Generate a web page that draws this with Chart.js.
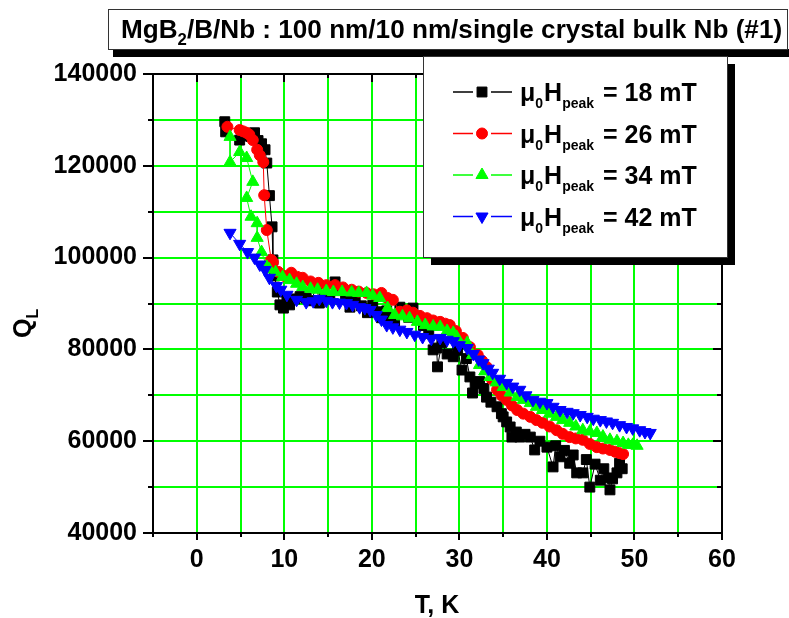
<!DOCTYPE html>
<html>
<head>
<meta charset="utf-8">
<title>MgB2/B/Nb Q vs T</title>
<script src="https://cdn.jsdelivr.net/npm/chart.js@4.4.1/dist/chart.umd.min.js"></script>
<style>
  html, body { margin: 0; padding: 0; background: #fff; }
  #wrap { width: 789px; height: 618px; }
</style>
</head>
<body>
<div id="wrap"><canvas id="qChart" width="789" height="618"></canvas></div>
<script>
// peak field of each series (legend)
const fields = ['18 mT', '26 mT', '34 mT', '42 mT'];

// mu0 Hpeak = 18 mT
const t18 = [3.2, 3.3, 4.9, 5.4, 5.8, 6.2, 6.6, 7.0, 7.4, 7.8, 8.0, 8.3, 8.6, 8.7, 8.9, 9.2, 9.5, 9.9, 10.3, 10.6,
  11.2, 11.8, 12.5, 13.1, 13.7, 14.0, 14.6, 15.2, 15.8, 16.4, 17.0, 17.5, 18.1, 18.8, 19.5, 20.1, 20.6, 21.1, 21.7, 22.1,
  22.6, 23.2, 23.8, 24.2, 24.7, 25.3, 25.9, 26.5, 27.0, 27.4, 27.5, 28.0, 28.6, 29.3, 29.8, 30.3, 30.8, 31.2, 31.5, 31.8,
  32.3, 32.8, 33.1, 33.6, 34.3, 34.8, 35.0, 35.4, 35.8, 36.0, 36.5, 36.9, 37.5, 38.1, 38.6, 39.2, 40.0, 40.7, 41.0, 41.5,
  42.0, 42.6, 43.0, 43.4, 44.1, 44.5, 44.9, 45.5, 46.1, 46.5, 47.0, 47.2, 47.5, 48.0, 48.3, 48.6];
const q18 = [129600, 127400, 125600, 126500, 126800, 126400, 127200, 125500, 124800, 123500, 120600, 113500, 106700, 99500, 96000, 92500, 89700, 89000, 91000, 89700,
  91000, 91500, 91200, 90600, 94000, 90100, 91800, 91500, 94700, 92800, 91000, 89200, 90800, 89500, 88000, 89600, 88200, 86900, 88400, 87000,
  85800, 89200, 88300, 87000, 89000, 86500, 85200, 83500, 79900, 80300, 76200, 81500, 79000, 78400, 79800, 75500, 78000, 74000, 70500, 72500,
  73000, 71500, 69600, 68500, 67500, 66000, 65300, 64200, 63100, 60900, 62000, 60900, 61500, 60900, 58100, 60000, 58700, 54400, 59000, 56600,
  58000, 55200, 57000, 53100, 53100, 56000, 50000, 55000, 51500, 54000, 52000, 49400, 51800, 53100, 55200, 54000];

// mu0 Hpeak = 26 mT
const t26 = [3.5, 4.9, 5.3, 5.7, 6.0, 6.4, 6.9, 7.2, 7.6, 7.7, 8.0, 8.5, 8.7, 9.3, 10.0, 10.8, 11.5, 12.1, 13.0, 13.9,
  14.8, 15.8, 16.7, 17.7, 18.5, 19.4, 20.2, 21.1, 21.8, 22.4, 23.2, 24.0, 24.7, 25.5, 26.3, 27.0, 27.8, 28.4, 28.9, 29.6,
  30.4, 31.2, 32.1, 32.6, 33.1, 33.7, 34.3, 34.8, 35.4, 36.0, 36.6, 37.3, 38.1, 38.8, 39.5, 40.3, 41.1, 41.8, 42.6, 43.3,
  44.1, 44.9, 45.7, 46.4, 47.2, 47.8, 48.3, 48.7];
const q26 = [128500, 127800, 127500, 127200, 126800, 125600, 123500, 122300, 120800, 113600, 106000, 99500, 99000, 96900, 96000, 96700, 95800, 95600, 94800, 94500,
  94000, 94000, 93500, 93000, 92600, 92300, 92000, 92300, 91200, 90800, 88200, 88500, 88000, 87300, 86800, 86300, 86000, 85600, 85300, 84000,
  82500, 80500, 78800, 77500, 76200, 73500, 71200, 70000, 69000, 67800, 66800, 66000, 65300, 64600, 64000, 63200, 62400, 61600, 60900, 60600,
  60300, 59400, 58700, 58400, 58100, 57700, 57400, 57200];

// mu0 Hpeak = 34 mT
const t34 = [3.8, 3.8, 4.9, 5.7, 6.4, 5.7, 6.2, 6.9, 6.9, 7.4, 8.0, 8.3, 9.0, 9.8, 10.6, 11.4, 12.1, 13.0, 13.8, 14.8,
  15.6, 16.6, 17.7, 18.5, 19.4, 20.1, 20.9, 21.8, 22.6, 23.5, 24.3, 25.2, 26.1, 27.0, 27.8, 28.6, 29.3, 29.7, 30.9, 31.5,
  32.3, 32.9, 33.5, 34.2, 35.0, 35.8, 36.6, 37.3, 38.1, 38.8, 39.5, 40.3, 41.1, 41.8, 42.6, 43.3, 44.1, 44.9, 45.7, 46.4,
  47.2, 48.0, 48.7, 49.3, 49.8, 50.3];
const q34 = [126300, 120800, 123000, 121700, 116500, 113000, 108900, 107500, 104300, 101200, 98000, 97400, 96800, 95800, 95100, 94300, 93600, 93200, 93000, 92700,
  92500, 92500, 92400, 92300, 92300, 91700, 91200, 89000, 87500, 87200, 86800, 86000, 85300, 85000, 84900, 84000, 83600, 82700, 81400, 78800,
  76600, 75200, 74000, 72800, 71800, 70600, 69600, 69000, 68300, 67500, 66800, 66000, 65300, 64600, 64000, 63200, 62400, 62100, 61800, 61000,
  60300, 60000, 59600, 59200, 59200, 59000];

// mu0 Hpeak = 42 mT
const t42 = [3.8, 4.9, 5.8, 6.6, 7.2, 7.8, 8.3, 9.1, 9.6, 10.3, 11.4, 12.5, 13.3, 14.0, 14.8, 15.5, 16.3, 17.1, 17.8, 18.6,
  19.2, 19.8, 20.5, 21.1, 21.7, 22.4, 23.2, 24.0, 24.9, 25.8, 26.8, 27.8, 28.6, 29.3, 30.0, 30.9, 31.6, 32.2, 32.7, 33.3,
  33.8, 34.6, 35.4, 36.1, 36.9, 37.6, 38.4, 39.2, 40.0, 40.7, 41.5, 42.3, 43.0, 43.8, 44.6, 45.3, 46.1, 46.8, 47.5, 48.3,
  49.1, 49.8, 50.6, 51.2, 51.8];
const q42 = [105400, 103000, 101200, 100000, 98500, 97300, 95600, 93800, 93000, 91900, 90800, 90300, 90500, 91000, 90600, 90300, 90200, 90100, 89700, 89200,
  89000, 88600, 87500, 86500, 85300, 84800, 84300, 83800, 83200, 82700, 82300, 82500, 82100, 81800, 80900, 80300, 79000, 77800, 77000, 75800,
  74900, 73600, 72700, 71900, 71200, 70000, 69000, 68600, 68300, 67500, 66800, 66400, 66100, 65700, 65300, 64900, 64600, 64300, 64000, 63500,
  63100, 62800, 62400, 62000, 61800];

// axes
const xLabels = [0, 10, 20, 30, 40, 50, 60];
const yLabels = [40000, 60000, 80000, 100000, 120000, 140000];
const xMin = -5, xMax = 60, xMinor = 5;
const yMin = 40000, yMax = 140000, yMinor = 10000;

const FONT = '"Liberation Sans", Arial, Helvetica, sans-serif';
const BIG = 'bold 25px ' + FONT;
const SMALL = 'bold 14px ' + FONT;
const TITLE_SUB = 'bold 16px ' + FONT;

const pts = (ts, qs) => ts.map((t, i) => ({ x: t, y: qs[i] }));

function series(label, ts, qs, color, style, rotation, radius, order) {
    return {
        label: label,
        data: pts(ts, qs),
        showLine: true,
        borderColor: color,
        backgroundColor: color,
        borderWidth: 1,
        pointStyle: style,
        pointRotation: rotation,
        pointRadius: radius,
        pointBackgroundColor: color,
        pointBorderColor: color,
        pointBorderWidth: 1,
        order: order
    };
}

// frame, ticks, title box, legend box and axis titles
const decorPlugin = {
    id: 'decor',
    afterDraw(chart) {
        const ctx = chart.ctx;
        const a = chart.chartArea;
        const xs = chart.scales.x, ys = chart.scales.y;

        ctx.save();
        ctx.strokeStyle = '#000';
        ctx.lineWidth = 2;
        ctx.beginPath();
        for (let v = xMin; v <= xMax; v += xMinor) {
            const px = Math.round(xs.getPixelForValue(v));
            const major = xLabels.includes(v);
            ctx.moveTo(px, a.bottom);
            ctx.lineTo(px, a.bottom + (major ? 7 : 4));
            ctx.moveTo(px, a.top);
            ctx.lineTo(px, a.top + (major ? 8 : 4));
        }
        for (let v = yMin; v <= yMax; v += yMinor) {
            const py = Math.round(ys.getPixelForValue(v));
            const major = yLabels.includes(v);
            ctx.moveTo(a.left - (major ? 10 : 5), py);
            ctx.lineTo(a.left, py);
            ctx.moveTo(a.right, py);
            ctx.lineTo(a.right - (major ? 9 : 5), py);
        }
        ctx.stroke();
        ctx.strokeRect(a.left, a.top, a.right - a.left, a.bottom - a.top);

        // axis titles
        ctx.fillStyle = '#000';
        ctx.textBaseline = 'alphabetic';
        ctx.font = BIG;
        ctx.textAlign = 'center';
        ctx.fillText('T, K', 437, 613);
        ctx.textAlign = 'left';
        ctx.save();
        ctx.translate(31, 338);
        ctx.rotate(-Math.PI / 2);
        ctx.font = BIG;
        ctx.fillText('Q', 0, 0);
        const qw = ctx.measureText('Q').width;
        ctx.font = TITLE_SUB;
        ctx.fillText('L', qw, 7);
        ctx.restore();

        // title box
        ctx.fillStyle = '#000';
        ctx.fillRect(113, 49, 690, 8);
        ctx.fillStyle = '#fff';
        ctx.fillRect(108, 9, 679, 40);
        ctx.lineWidth = 1;
        ctx.strokeStyle = '#333';
        ctx.strokeRect(108.5, 9.5, 679, 40);
        ctx.fillStyle = '#000';
        ctx.save();
        ctx.translate(121, 38);
        ctx.scale(1.045, 1);
        let tx = 0;
        ctx.font = BIG;
        ctx.fillText('MgB', tx, 0);
        tx += ctx.measureText('MgB').width;
        ctx.font = TITLE_SUB;
        ctx.fillText('2', tx, 7);
        tx += ctx.measureText('2').width;
        ctx.font = BIG;
        ctx.fillText('/B/Nb : 100 nm/10 nm/single crystal bulk Nb (#1)', tx, 0);
        ctx.restore();

        // legend box with shadow
        const lx = 423, ly = 56, lw = 304, lh = 201;
        ctx.fillStyle = '#000';
        ctx.fillRect(lx + 8, ly + 8, lw, lh);
        ctx.fillStyle = '#fff';
        ctx.fillRect(lx, ly, lw, lh);
        ctx.strokeStyle = '#333';
        ctx.strokeRect(lx + 0.5, ly + 0.5, lw, lh);

        chart.data.datasets.forEach((ds, i) => {
            const cy = 92 + i * 41.5;
            ctx.strokeStyle = ds.borderColor;
            ctx.lineWidth = 1.5;
            ctx.beginPath();
            ctx.moveTo(453, cy);
            ctx.lineTo(473, cy);
            ctx.moveTo(491, cy);
            ctx.lineTo(512, cy);
            ctx.stroke();
            ctx.fillStyle = ds.pointBackgroundColor;
            ctx.lineWidth = 1;
            Chart.helpers.drawPoint(ctx, {
                pointStyle: ds.pointStyle,
                rotation: ds.pointRotation,
                radius: ds.pointRadius,
                borderWidth: 1
            }, 482, cy);

            ctx.fillStyle = '#000';
            let x = 520;
            const base = cy + 9;
            ctx.font = BIG;
            ctx.fillText('\u03bc', x, base);
            x += ctx.measureText('\u03bc').width;
            ctx.font = SMALL;
            ctx.fillText('0', x, base + 7);
            x += ctx.measureText('0').width + 1;
            ctx.font = BIG;
            ctx.fillText('H', x, base);
            x += ctx.measureText('H').width;
            ctx.font = SMALL;
            ctx.fillText('peak', x, base + 7);
            ctx.font = BIG;
            ctx.fillText('= ' + ds.label, 603, base);
        });
        ctx.restore();
    }
};

const ctx = document.getElementById('qChart').getContext('2d');
const qChart = new Chart(ctx, {
    type: 'scatter',
    data: {
        datasets: [
            series(fields[0], t18, q18, '#000000', 'rect', 0, 7, 4),
            series(fields[1], t26, q26, '#ff0000', 'circle', 0, 5.5, 3),
            series(fields[2], t34, q34, '#00ff00', 'triangle', 0, 7, 2),
            series(fields[3], t42, q42, '#0000ff', 'triangle', 180, 7, 1)
        ]
    },
    options: {
        responsive: false,
        animation: false,
        devicePixelRatio: 1,
        layout: { padding: { top: 74, right: 67, left: 0, bottom: 0 } },
        plugins: {
            legend: { display: false },
            tooltip: { enabled: false }
        },
        scales: {
            x: {
                type: 'linear',
                min: xMin,
                max: xMax,
                afterFit: (s) => { s.height = 85; },
                ticks: {
                    stepSize: xMinor,
                    autoSkip: false,
                    maxRotation: 0,
                    padding: 12,
                    color: '#000',
                    font: { family: FONT, size: 25, weight: 'bold' },
                    callback: (v) => xLabels.includes(v) ? String(v) : ''
                },
                grid: { color: '#00ff00', lineWidth: 2, drawTicks: false },
                border: { display: false }
            },
            y: {
                type: 'linear',
                min: yMin,
                max: yMax,
                afterFit: (s) => { s.width = 153; },
                ticks: {
                    stepSize: yMinor,
                    autoSkip: false,
                    padding: 16,
                    color: '#000',
                    font: { family: FONT, size: 25, weight: 'bold' },
                    callback: (v) => yLabels.includes(v) ? String(v) : ''
                },
                grid: { color: '#00ff00', lineWidth: 2, drawTicks: false },
                border: { display: false }
            }
        }
    },
    plugins: [decorPlugin]
});
</script>
</body>
</html>
